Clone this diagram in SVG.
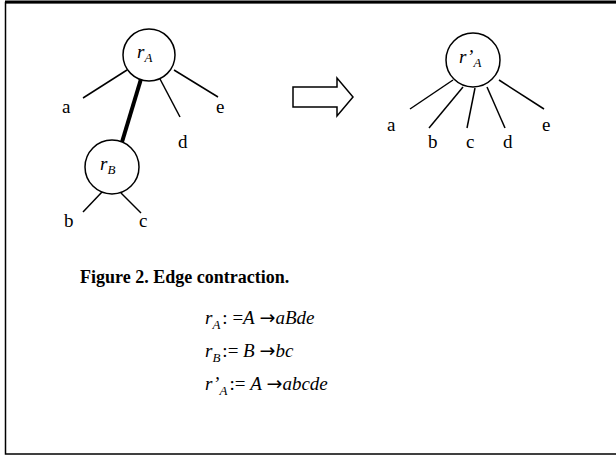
<svg xmlns="http://www.w3.org/2000/svg" width="616" height="456" viewBox="0 0 616 456">
<style>
.n{fill:#fff;stroke:#000;stroke-width:1.5}
.e{stroke:#000;stroke-width:1.5;fill:none}
.t{font-family:"Liberation Serif",serif;font-size:19px;fill:#000}
.i{font-family:"Liberation Serif",serif;font-style:italic;fill:#000}
.eq{font-family:"Liberation Serif",serif;font-size:19px;fill:#000}
.ar{font-family:"DejaVu Sans",sans-serif;font-style:normal}
.cap{font-family:"Liberation Serif",serif;font-size:18px;font-weight:bold;fill:#000}
</style>
<rect x="0" y="0" width="616" height="456" fill="#fff"/>
<rect x="5.5" y="2.5" width="620" height="451.5" fill="none" stroke="#000" stroke-width="1.5"/>
<line x1="5" y1="2" x2="616" y2="2" stroke="#000" stroke-width="3"/>
<g id="connectors">
<line class="e" x1="127" y1="70" x2="83" y2="98"/>
<line class="e" x1="174" y1="70" x2="218" y2="97"/>
<line class="e" x1="160" y1="79" x2="180" y2="117"/>
<line x1="141" y1="79" x2="122" y2="142" stroke="#000" stroke-width="4"/>
<line class="e" x1="102" y1="192" x2="83" y2="212"/>
<line class="e" x1="121" y1="193" x2="141" y2="213"/>
<line class="e" x1="453" y1="80" x2="410" y2="109"/>
<line class="e" x1="463" y1="87" x2="429" y2="128"/>
<line class="e" x1="475" y1="88" x2="467" y2="128"/>
<line class="e" x1="487" y1="87" x2="505" y2="128"/>
<line class="e" x1="499" y1="80" x2="544" y2="109"/>
</g>
<g id="rA">
<circle class="n" cx="149" cy="55" r="26"/>
<text class="i" x="137" y="58" font-size="19">r<tspan font-size="13" dy="4">A</tspan></text>
</g>
<g id="rB">
<circle class="n" cx="112" cy="167" r="27"/>
<text class="i" x="100" y="170" font-size="19">r<tspan font-size="13" dy="4">B</tspan></text>
</g>
<g id="rA2">
<circle class="n" cx="473" cy="60" r="27"/>
<text class="i" x="459" y="63" font-size="19">r’<tspan font-size="13" dy="4">A</tspan></text>
</g>
<g id="leaves">
<text class="t" x="62" y="113">a</text>
<text class="t" x="216" y="113">e</text>
<text class="t" x="178" y="148">d</text>
<text class="t" x="64" y="227">b</text>
<text class="t" x="139" y="227">c</text>
<text class="t" x="387" y="131">a</text>
<text class="t" x="428" y="148">b</text>
<text class="t" x="466" y="148">c</text>
<text class="t" x="503" y="148">d</text>
<text class="t" x="542" y="131">e</text>
</g>
<g id="arrow">
<polygon points="293,87 337,87 337,78 353,97 337,116 337,107 293,107" fill="#fff" stroke="#000" stroke-width="1.5"/>
</g>
<text class="cap" x="80" y="283">Figure 2. Edge contraction.</text>
<text class="eq" x="205" y="324"><tspan font-style="italic">r</tspan><tspan font-style="italic" font-size="13" dy="5">A</tspan><tspan dy="-5" dx="2">: =</tspan><tspan font-style="italic">A</tspan> <tspan class="ar">→</tspan><tspan font-style="italic">aBde</tspan></text>
<text class="eq" x="205" y="357"><tspan font-style="italic">r</tspan><tspan font-style="italic" font-size="13" dy="5">B</tspan><tspan dy="-5" dx="2">:= </tspan><tspan font-style="italic">B</tspan> <tspan class="ar">→</tspan><tspan font-style="italic">bc</tspan></text>
<text class="eq" x="205" y="390"><tspan font-style="italic">r’</tspan><tspan font-style="italic" font-size="13" dy="5">A</tspan><tspan dy="-5" dx="2">:= </tspan><tspan font-style="italic">A</tspan> <tspan class="ar">→</tspan><tspan font-style="italic">abcde</tspan></text>
</svg>
